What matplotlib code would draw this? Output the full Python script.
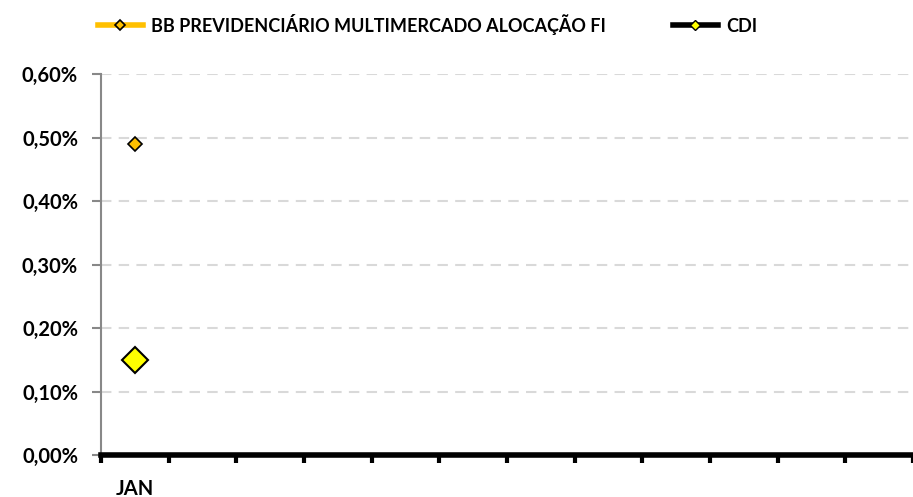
import matplotlib
matplotlib.use('Agg')
import matplotlib.pyplot as plt
from matplotlib.lines import Line2D
from matplotlib.ticker import FuncFormatter

# dados
meses = ["JAN", "FEV", "MAR", "ABR", "MAI", "JUN", "JUL", "AGO", "SET", "OUT", "NOV", "DEZ"]
fundo_nome = "BB PREVIDENCIÁRIO MULTIMERCADO ALOCAÇÃO FI"
fundo_vals = [0.49]
cdi_vals = [0.15]

plt.rcParams['font.family'] = ['Lato', 'DejaVu Sans']
plt.rcParams['font.weight'] = 'bold'

fig = plt.figure(figsize=(9.13, 4.97), dpi=100)
ax = fig.add_axes([0.1106, 0.0845, 0.8894, 0.7665])

x = list(range(len(fundo_vals)))
ax.plot(x, fundo_vals, color='#FFC000', lw=4, marker='D', ms=7,
        mfc='#FFC000', mec='black', mew=1.2)
ax.plot(x, cdi_vals, color='black', lw=4, marker='D', ms=13,
        mfc='#FFFF00', mec='black', mew=1.5)

ax.set_ylim(0, 0.6)
ax.set_yticks([0, 0.1, 0.2, 0.3, 0.4, 0.5, 0.6])
ax.yaxis.set_major_formatter(FuncFormatter(lambda v, p: f"{v:.2f}%".replace('.', ',')))
ax.set_xlim(-0.5, 11.44)
ax.set_xticks(range(len(meses)))
ax.set_xticklabels(["JAN"] + [""] * (len(meses) - 1))
ax.set_xticks([i - 0.5 for i in range(len(meses) + 1)], minor=True)
ax.tick_params(axis='x', which='major', length=0, pad=17, labelsize=14.5)
ax.tick_params(axis='x', which='minor', length=6, width=3, color='black', direction='out')
ax.tick_params(axis='y', length=6.5, width=1.5, color='#888888', labelsize=14.5, pad=10)

ax.grid(axis='y', color='#D9D9D9', ls=(0, (5, 3.5)), lw=1.5)
ax.set_axisbelow(True)
for s in ['top', 'right']:
    ax.spines[s].set_visible(False)
ax.spines['left'].set_color('#888888')
ax.spines['left'].set_linewidth(1.5)
ax.spines['bottom'].set_color('black')
ax.spines['bottom'].set_linewidth(4)

handles = [
    Line2D([], [], color='#FFC000', lw=4, marker='D', ms=5, mfc='#FFC000', mec='black', mew=1.2),
    Line2D([], [], color='black', lw=4, marker='D', ms=5, mfc='#FFFF00', mec='black', mew=1),
]
fig.legend(handles, [fundo_nome, 'CDI'], loc='upper center', bbox_to_anchor=(0.468, 1.005),
           ncol=2, frameon=False, fontsize=13, handlelength=2.5,
           columnspacing=3.7, handletextpad=0.45)

fig.savefig('out.png', dpi=100)
